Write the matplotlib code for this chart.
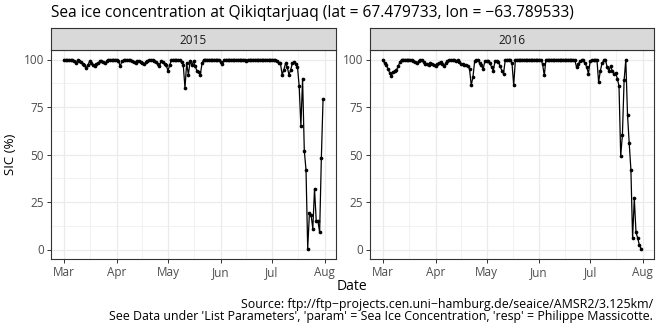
import numpy as np
import pandas as pd
import matplotlib
matplotlib.use('Agg')
import matplotlib.pyplot as plt
import matplotlib.dates as mdates

plt.rcParams['font.family'] = ['Open Sans', 'DejaVu Sans']

# ---------------- data ----------------
years = ['2015', '2016']
start_dates = ['2015-03-01', '2016-03-01']

sic_2015 = [
    100, 100, 99.5, 100, 99.5, 100, 99, 98, 99.5, 99,
    98.5, 97.5, 97, 95.5, 97, 99, 98, 97, 96.5, 97.5,
    98, 99, 99, 98.5, 98, 99, 100, 100, 99.5, 100,
    100, 100, 99, 96.5, 99, 99.5, 99.5, 100, 99.5, 99.5,
    99, 98.5, 98, 99, 99.3, 98.5, 98, 97.5, 98.5, 99.3,
    99.5, 100, 99.5, 99, 98.5, 97.5, 96.5, 99, 98.5, 97.5,
    97, 94, 97, 99.5, 100, 100, 100, 99.5, 99.5, 98.5,
    97, 85, 98, 92, 99, 97, 99, 96.5, 94, 93.5,
    92, 98, 100, 100, 100, 100, 100, 100, 100, 100,
    100, 100, 98.5, 97.5, 100, 100, 100, 100, 100, 100,
    100, 100, 100, 100, 100, 100, 100, 99, 100, 100,
    100, 100, 100, 100, 100, 100, 100, 100, 100, 100,
    100, 100, 100, 100, 99.5, 99, 98, 98, 92, 94.5,
    98, 96, 92, 94.5, 98, 98.5, 97.5, 96, 86, 65,
    90, 52, 42, 0.5, 19, 18, 11, 32, 15, 15,
    9, 48, 79,
]

sic_2016 = [
    100, 98, 97, 95, 93, 91.5, 93.5, 94, 94.5, 96.5,
    98.5, 100, 100, 100, 100, 100, 100, 99.5, 99, 98.5,
    98.3, 99, 99.5, 99.5, 98.5, 97.8, 97.5, 97.2, 98.3, 97.5,
    97, 96.5, 97.5, 98.3, 98.6, 97.5, 96.5, 98, 99, 99.5,
    99.5, 99.5, 100, 99, 99.5, 98.5, 97.8, 97.5, 97.2, 97,
    96.5, 95, 86.4, 90.8, 99, 99.5, 99.5, 98.3, 97, 94.8,
    99, 99, 99, 98, 96, 94.2, 99, 99, 98.6, 96.5,
    94.2, 92.5, 99.5, 100, 100, 100, 98, 86.4, 100, 100,
    100, 100, 100, 100, 100, 100, 100, 100, 100, 100,
    100, 100, 100, 100, 97.5, 91.6, 100, 100, 100, 100,
    100, 100, 100, 100, 100, 100, 100, 100, 100, 100,
    100, 100, 100, 99.5, 96, 97.5, 99, 99.5, 99.5, 98,
    96, 92.5, 99, 99.5, 99.5, 100, 100, 88, 94, 98,
    99.5, 100, 96, 94, 96.5, 94, 92.5, 93, 90, 86,
    49, 60.5, 89, 100, 71, 56, 42, 6, 27, 9,
    6, 2.3, 0.5,
]

series = [sic_2015, sic_2016]
y_ticks = [0, 25, 50, 75, 100]

title = 'Sea ice concentration at Qikiqtarjuaq (lat = 67.479733, lon = \u221263.789533)'
x_label = 'Date'
y_label = 'SIC (%)'
caption_1 = 'Source: ftp://ftp\u2212projects.cen.uni\u2212hamburg.de/seaice/AMSR2/3.125km/'
caption_2 = "See Data under 'List Parameters', 'param' = Sea Ice Concentration, 'resp' = Philippe Massicotte."

# ---------------- figure ----------------
W, H = 660, 327
fig = plt.figure(figsize=(W / 100, H / 100), dpi=100)


def px_axes(l, t, r, b):
    return fig.add_axes([l / W, 1 - b / H, (r - l) / W, (b - t) / H])


border = '#333333'
grid_c = '#EBEBEB'
panels = [(51, 336), (370, 654)]

for (l, r), year, start, vals in zip(panels, years, start_dates, series):
    ax = px_axes(l, 50, r, 259)
    dates = pd.date_range(start, periods=len(vals), freq='D')
    ax.plot(dates, vals, color='black', lw=0.9, zorder=3)
    ax.scatter(dates, vals, s=7, color='black', zorder=4, linewidths=0)
    ax.set_ylim(-5, 105)
    ax.margins(x=0.05)
    ax.xaxis.set_major_locator(mdates.MonthLocator())
    ax.xaxis.set_major_formatter(mdates.DateFormatter('%b'))
    ax.set_yticks(y_ticks)
    xmaj = np.array([t for t in ax.get_xticks() if ax.get_xlim()[0] <= t <= ax.get_xlim()[1]])
    ax.set_xticks(xmaj)
    ax.set_xticks((xmaj[:-1] + xmaj[1:]) / 2, minor=True)
    yt = np.array(y_ticks, dtype=float)
    ax.set_yticks((yt[:-1] + yt[1:]) / 2, minor=True)
    ax.grid(which='major', color=grid_c, lw=0.9, zorder=0)
    ax.grid(which='minor', color=grid_c, lw=0.45, zorder=0)
    ax.set_axisbelow(True)
    ax.tick_params(which='minor', length=0)
    ax.tick_params(which='major', length=3, width=0.7, color=border,
                   labelsize=8.5, labelcolor='#4D4D4D', pad=2)
    for s in ax.spines.values():
        s.set_color(border)
        s.set_linewidth(0.8)

    sax = px_axes(l, 28.3, r, 50)
    sax.set_facecolor('#D9D9D9')
    sax.set_xticks([])
    sax.set_yticks([])
    for s in sax.spines.values():
        s.set_color(border)
        s.set_linewidth(0.8)
    sax.text(0.5, 0.45, year, ha='center', va='center', fontsize=8.5,
             color='#1A1A1A', transform=sax.transAxes)

fig.text(51 / W, 1 - 17.3 / H, title, ha='left', va='baseline', fontsize=11.2, color='black')
fig.text(352 / W, 1 - 290 / H, x_label, ha='center', va='baseline', fontsize=10, color='black')
fig.text(10 / W, 1 - 154.5 / H, y_label, ha='center', va='center', rotation=90,
         fontsize=9.5, color='black')
fig.text(653 / W, 1 - 307.7 / H, caption_1, ha='right', va='baseline', fontsize=8.9, color='black')
fig.text(653 / W, 1 - 320 / H, caption_2, ha='right', va='baseline', fontsize=8.9, color='black')

fig.savefig('out.png', dpi=100)
